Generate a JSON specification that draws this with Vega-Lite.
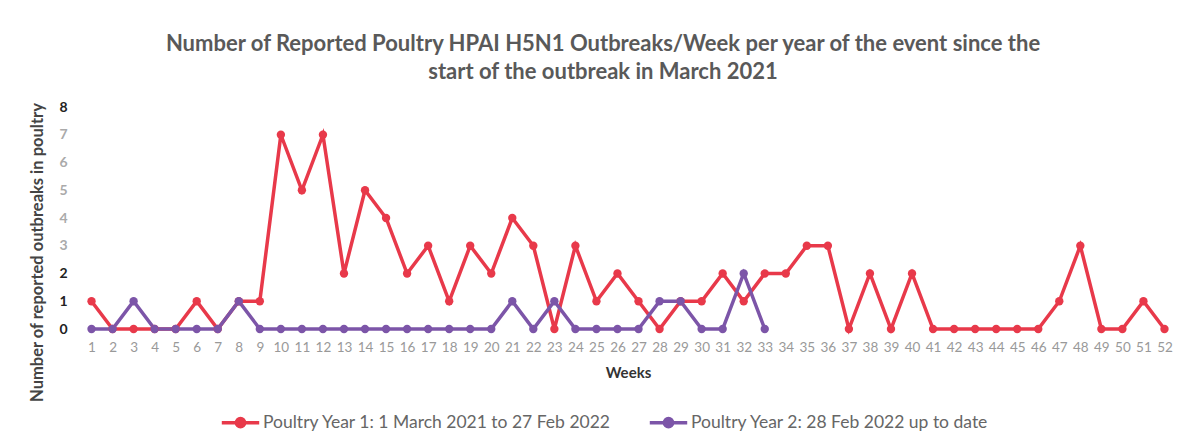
{
  "$schema": "https://vega.github.io/schema/vega-lite/v6.json",
  "autosize": "none",
  "width": 1094,
  "height": 222,
  "padding": {"left": 81, "top": 107, "right": 12, "bottom": 106},
  "background": "white",
  "config": {
    "view": {"stroke": null},
    "font": "Lato"
  },
  "title": {
    "text": ["Number of Reported Poultry HPAI H5N1 Outbreaks/Week per year of the event since the", "start of the outbreak in March 2021"],
    "font": "Lato",
    "fontSize": 22,
    "fontWeight": "bold",
    "color": "#595959",
    "anchor": "middle",
    "dx": -25,
    "offset": 16,
    "lineHeight": 28
  },
  "datasets": {
    "weeks": [
      {"week": 1, "series": "Poultry Year 1: 1 March 2021 to 27 Feb 2022", "outbreaks": 1},
      {"week": 2, "series": "Poultry Year 1: 1 March 2021 to 27 Feb 2022", "outbreaks": 0},
      {"week": 3, "series": "Poultry Year 1: 1 March 2021 to 27 Feb 2022", "outbreaks": 0},
      {"week": 4, "series": "Poultry Year 1: 1 March 2021 to 27 Feb 2022", "outbreaks": 0},
      {"week": 5, "series": "Poultry Year 1: 1 March 2021 to 27 Feb 2022", "outbreaks": 0},
      {"week": 6, "series": "Poultry Year 1: 1 March 2021 to 27 Feb 2022", "outbreaks": 1},
      {"week": 7, "series": "Poultry Year 1: 1 March 2021 to 27 Feb 2022", "outbreaks": 0},
      {"week": 8, "series": "Poultry Year 1: 1 March 2021 to 27 Feb 2022", "outbreaks": 1},
      {"week": 9, "series": "Poultry Year 1: 1 March 2021 to 27 Feb 2022", "outbreaks": 1},
      {"week": 10, "series": "Poultry Year 1: 1 March 2021 to 27 Feb 2022", "outbreaks": 7},
      {"week": 11, "series": "Poultry Year 1: 1 March 2021 to 27 Feb 2022", "outbreaks": 5},
      {"week": 12, "series": "Poultry Year 1: 1 March 2021 to 27 Feb 2022", "outbreaks": 7},
      {"week": 13, "series": "Poultry Year 1: 1 March 2021 to 27 Feb 2022", "outbreaks": 2},
      {"week": 14, "series": "Poultry Year 1: 1 March 2021 to 27 Feb 2022", "outbreaks": 5},
      {"week": 15, "series": "Poultry Year 1: 1 March 2021 to 27 Feb 2022", "outbreaks": 4},
      {"week": 16, "series": "Poultry Year 1: 1 March 2021 to 27 Feb 2022", "outbreaks": 2},
      {"week": 17, "series": "Poultry Year 1: 1 March 2021 to 27 Feb 2022", "outbreaks": 3},
      {"week": 18, "series": "Poultry Year 1: 1 March 2021 to 27 Feb 2022", "outbreaks": 1},
      {"week": 19, "series": "Poultry Year 1: 1 March 2021 to 27 Feb 2022", "outbreaks": 3},
      {"week": 20, "series": "Poultry Year 1: 1 March 2021 to 27 Feb 2022", "outbreaks": 2},
      {"week": 21, "series": "Poultry Year 1: 1 March 2021 to 27 Feb 2022", "outbreaks": 4},
      {"week": 22, "series": "Poultry Year 1: 1 March 2021 to 27 Feb 2022", "outbreaks": 3},
      {"week": 23, "series": "Poultry Year 1: 1 March 2021 to 27 Feb 2022", "outbreaks": 0},
      {"week": 24, "series": "Poultry Year 1: 1 March 2021 to 27 Feb 2022", "outbreaks": 3},
      {"week": 25, "series": "Poultry Year 1: 1 March 2021 to 27 Feb 2022", "outbreaks": 1},
      {"week": 26, "series": "Poultry Year 1: 1 March 2021 to 27 Feb 2022", "outbreaks": 2},
      {"week": 27, "series": "Poultry Year 1: 1 March 2021 to 27 Feb 2022", "outbreaks": 1},
      {"week": 28, "series": "Poultry Year 1: 1 March 2021 to 27 Feb 2022", "outbreaks": 0},
      {"week": 29, "series": "Poultry Year 1: 1 March 2021 to 27 Feb 2022", "outbreaks": 1},
      {"week": 30, "series": "Poultry Year 1: 1 March 2021 to 27 Feb 2022", "outbreaks": 1},
      {"week": 31, "series": "Poultry Year 1: 1 March 2021 to 27 Feb 2022", "outbreaks": 2},
      {"week": 32, "series": "Poultry Year 1: 1 March 2021 to 27 Feb 2022", "outbreaks": 1},
      {"week": 33, "series": "Poultry Year 1: 1 March 2021 to 27 Feb 2022", "outbreaks": 2},
      {"week": 34, "series": "Poultry Year 1: 1 March 2021 to 27 Feb 2022", "outbreaks": 2},
      {"week": 35, "series": "Poultry Year 1: 1 March 2021 to 27 Feb 2022", "outbreaks": 3},
      {"week": 36, "series": "Poultry Year 1: 1 March 2021 to 27 Feb 2022", "outbreaks": 3},
      {"week": 37, "series": "Poultry Year 1: 1 March 2021 to 27 Feb 2022", "outbreaks": 0},
      {"week": 38, "series": "Poultry Year 1: 1 March 2021 to 27 Feb 2022", "outbreaks": 2},
      {"week": 39, "series": "Poultry Year 1: 1 March 2021 to 27 Feb 2022", "outbreaks": 0},
      {"week": 40, "series": "Poultry Year 1: 1 March 2021 to 27 Feb 2022", "outbreaks": 2},
      {"week": 41, "series": "Poultry Year 1: 1 March 2021 to 27 Feb 2022", "outbreaks": 0},
      {"week": 42, "series": "Poultry Year 1: 1 March 2021 to 27 Feb 2022", "outbreaks": 0},
      {"week": 43, "series": "Poultry Year 1: 1 March 2021 to 27 Feb 2022", "outbreaks": 0},
      {"week": 44, "series": "Poultry Year 1: 1 March 2021 to 27 Feb 2022", "outbreaks": 0},
      {"week": 45, "series": "Poultry Year 1: 1 March 2021 to 27 Feb 2022", "outbreaks": 0},
      {"week": 46, "series": "Poultry Year 1: 1 March 2021 to 27 Feb 2022", "outbreaks": 0},
      {"week": 47, "series": "Poultry Year 1: 1 March 2021 to 27 Feb 2022", "outbreaks": 1},
      {"week": 48, "series": "Poultry Year 1: 1 March 2021 to 27 Feb 2022", "outbreaks": 3},
      {"week": 49, "series": "Poultry Year 1: 1 March 2021 to 27 Feb 2022", "outbreaks": 0},
      {"week": 50, "series": "Poultry Year 1: 1 March 2021 to 27 Feb 2022", "outbreaks": 0},
      {"week": 51, "series": "Poultry Year 1: 1 March 2021 to 27 Feb 2022", "outbreaks": 1},
      {"week": 52, "series": "Poultry Year 1: 1 March 2021 to 27 Feb 2022", "outbreaks": 0},
      {"week": 1, "series": "Poultry Year 2: 28 Feb 2022 up to date", "outbreaks": 0},
      {"week": 2, "series": "Poultry Year 2: 28 Feb 2022 up to date", "outbreaks": 0},
      {"week": 3, "series": "Poultry Year 2: 28 Feb 2022 up to date", "outbreaks": 1},
      {"week": 4, "series": "Poultry Year 2: 28 Feb 2022 up to date", "outbreaks": 0},
      {"week": 5, "series": "Poultry Year 2: 28 Feb 2022 up to date", "outbreaks": 0},
      {"week": 6, "series": "Poultry Year 2: 28 Feb 2022 up to date", "outbreaks": 0},
      {"week": 7, "series": "Poultry Year 2: 28 Feb 2022 up to date", "outbreaks": 0},
      {"week": 8, "series": "Poultry Year 2: 28 Feb 2022 up to date", "outbreaks": 1},
      {"week": 9, "series": "Poultry Year 2: 28 Feb 2022 up to date", "outbreaks": 0},
      {"week": 10, "series": "Poultry Year 2: 28 Feb 2022 up to date", "outbreaks": 0},
      {"week": 11, "series": "Poultry Year 2: 28 Feb 2022 up to date", "outbreaks": 0},
      {"week": 12, "series": "Poultry Year 2: 28 Feb 2022 up to date", "outbreaks": 0},
      {"week": 13, "series": "Poultry Year 2: 28 Feb 2022 up to date", "outbreaks": 0},
      {"week": 14, "series": "Poultry Year 2: 28 Feb 2022 up to date", "outbreaks": 0},
      {"week": 15, "series": "Poultry Year 2: 28 Feb 2022 up to date", "outbreaks": 0},
      {"week": 16, "series": "Poultry Year 2: 28 Feb 2022 up to date", "outbreaks": 0},
      {"week": 17, "series": "Poultry Year 2: 28 Feb 2022 up to date", "outbreaks": 0},
      {"week": 18, "series": "Poultry Year 2: 28 Feb 2022 up to date", "outbreaks": 0},
      {"week": 19, "series": "Poultry Year 2: 28 Feb 2022 up to date", "outbreaks": 0},
      {"week": 20, "series": "Poultry Year 2: 28 Feb 2022 up to date", "outbreaks": 0},
      {"week": 21, "series": "Poultry Year 2: 28 Feb 2022 up to date", "outbreaks": 1},
      {"week": 22, "series": "Poultry Year 2: 28 Feb 2022 up to date", "outbreaks": 0},
      {"week": 23, "series": "Poultry Year 2: 28 Feb 2022 up to date", "outbreaks": 1},
      {"week": 24, "series": "Poultry Year 2: 28 Feb 2022 up to date", "outbreaks": 0},
      {"week": 25, "series": "Poultry Year 2: 28 Feb 2022 up to date", "outbreaks": 0},
      {"week": 26, "series": "Poultry Year 2: 28 Feb 2022 up to date", "outbreaks": 0},
      {"week": 27, "series": "Poultry Year 2: 28 Feb 2022 up to date", "outbreaks": 0},
      {"week": 28, "series": "Poultry Year 2: 28 Feb 2022 up to date", "outbreaks": 1},
      {"week": 29, "series": "Poultry Year 2: 28 Feb 2022 up to date", "outbreaks": 1},
      {"week": 30, "series": "Poultry Year 2: 28 Feb 2022 up to date", "outbreaks": 0},
      {"week": 31, "series": "Poultry Year 2: 28 Feb 2022 up to date", "outbreaks": 0},
      {"week": 32, "series": "Poultry Year 2: 28 Feb 2022 up to date", "outbreaks": 2},
      {"week": 33, "series": "Poultry Year 2: 28 Feb 2022 up to date", "outbreaks": 0}
    ]
  },
  "data": {"name": "weeks"},
  "encoding": {
    "x": {
      "field": "week",
      "type": "quantitative",
      "scale": {"domain": [0.5, 52.5], "nice": false, "zero": false},
      "axis": {
        "title": "Weeks",
        "titleFont": "Lato",
        "titleFontSize": 15,
        "titleFontWeight": "bold",
        "titleColor": "#333333",
        "titlePadding": 12,
        "values": [1,2,3,4,5,6,7,8,9,10,11,12,13,14,15,16,17,18,19,20,21,22,23,24,25,26,27,28,29,30,31,32,33,34,35,36,37,38,39,40,41,42,43,44,45,46,47,48,49,50,51,52],
        "format": "d",
        "labelFontSize": 13.5,
        "labelColor": "#999999",
        "labelPadding": 11,
        "labelFlush": false,
        "labelOverlap": false,
        "domain": false,
        "ticks": false,
        "grid": false
      }
    },
    "y": {
      "field": "outbreaks",
      "type": "quantitative",
      "scale": {"domain": [0, 8], "nice": false},
      "axis": {
        "title": "Number of reported outbreaks in poultry",
        "titleFont": "Lato",
        "titleFontSize": 16.5,
        "titleFontWeight": "bold",
        "titleColor": "#444444",
        "titleX": -36,
        "titleY": 145,
        "values": [0,1,2,3,4,5,6,7,8],
        "labelFontSize": 14,
        "labelFontWeight": "bold",
        "labelColor": {"condition": {"test": "datum.value >= 3 && datum.value <= 7", "value": "#aaaaaa"}, "value": "#222222"},
        "labelPadding": 14,
        "domain": false,
        "ticks": false,
        "grid": false
      }
    },
    "color": {
      "field": "series",
      "type": "nominal",
      "scale": {
        "domain": ["Poultry Year 1: 1 March 2021 to 27 Feb 2022", "Poultry Year 2: 28 Feb 2022 up to date"],
        "range": ["#e8394a", "#7c55a8"]
      },
      "legend": {
        "title": null,
        "orient": "none",
        "legendX": 139,
        "legendY": 295,
        "direction": "horizontal",
        "columns": 2,
        "columnPadding": 30,
        "labelFont": "Lato",
        "labelFontSize": 17.5,
        "labelColor": "#666666",
        "labelOffset": 2,
        "labelLimit": 500,
        "symbolType": "M -1 0 L 1 0 M -0.22 0 A 0.22 0.22 0 1 1 0.22 0 A 0.22 0.22 0 1 1 -0.22 0 Z",
        "symbolSize": 1400,
        "symbolStrokeWidth": 3.5
      }
    }
  },
  "layer": [
    {"mark": {"type": "line", "strokeWidth": 3.5}},
    {"mark": {"type": "point", "filled": true, "size": 70, "opacity": 1}}
  ]
}
